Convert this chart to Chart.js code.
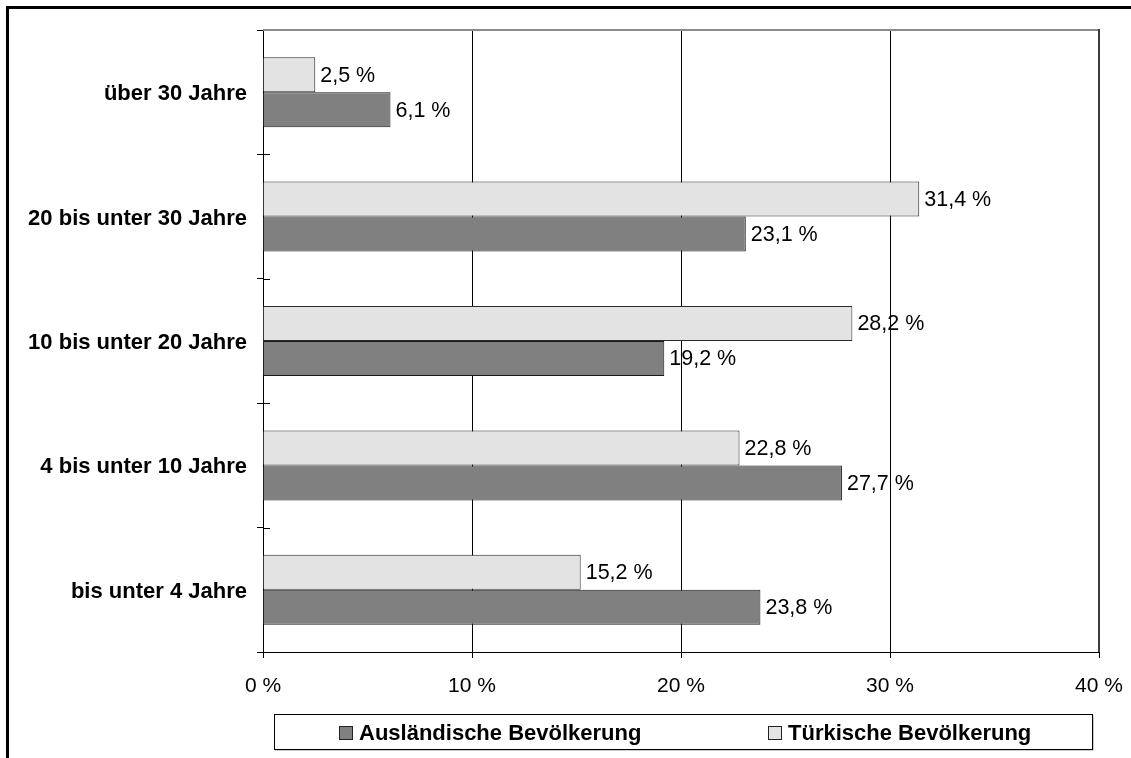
<!DOCTYPE html>
<html lang="de">
<head>
<meta charset="utf-8">
<title>Aufenthaltsdauer</title>
<script src="https://cdn.jsdelivr.net/npm/chart.js@4/dist/chart.umd.min.js"></script>
<style>
  html, body { margin: 0; padding: 0; background: #fff; }
  #wrap { width: 1131px; height: 758px; }
</style>
</head>
<body>
<div id="wrap"><canvas id="c" width="1131" height="758"></canvas></div>
<script>
// Aufenthaltsdauer (top to bottom)
const categories = ['über 30 Jahre', '20 bis unter 30 Jahre', '10 bis unter 20 Jahre', '4 bis unter 10 Jahre', 'bis unter 4 Jahre'];
const tuerkisch = [2.5, 31.4, 28.2, 22.8, 15.2];
const auslaendisch = [6.1, 23.1, 19.2, 27.7, 23.8];
const seriesNames = ['Türkische Bevölkerung', 'Ausländische Bevölkerung'];
const xTicks = [0, 10, 20, 30, 40];

const FONT = '"Liberation Sans", Arial, Helvetica, sans-serif';
const LIGHT = '#e3e3e3';
const DARK = '#808080';

const fmt = v => v.toFixed(1).replace('.', ',') + ' %';

// value labels at the end of each bar
const valueLabels = {
  id: 'valueLabels',
  afterDatasetsDraw(chart) {
    const ctx = chart.ctx;
    ctx.save();
    ctx.font = '21.5px ' + FONT;
    ctx.fillStyle = '#000';
    ctx.textAlign = 'left';
    ctx.textBaseline = 'middle';
    chart.data.datasets.forEach((ds, di) => {
      chart.getDatasetMeta(di).data.forEach((bar, i) => {
        ctx.fillText(fmt(ds.data[i]), bar.x + 5, bar.y + 1);
      });
    });
    ctx.restore();
  }
};

// outer frame, plot border, inner tick stubs and the boxed legend
const decorations = {
  id: 'decorations',
  beforeDraw(chart) {
    const ctx = chart.ctx;
    ctx.save();
    ctx.fillStyle = '#fff';
    ctx.fillRect(0, 0, chart.width, chart.height);
    ctx.restore();
  },
  afterDraw(chart) {
    const ctx = chart.ctx;
    const ca = chart.chartArea;
    const y = chart.scales.y;
    ctx.save();

    // outer frame (top and left edges)
    ctx.fillStyle = '#000';
    ctx.fillRect(6, 6, chart.width - 6, 3);
    ctx.fillRect(6, 6, 3, chart.height - 6);

    // plot area top and right border
    ctx.fillStyle = '#8a8a8a';
    ctx.fillRect(ca.left, ca.top - 1, ca.right - ca.left + 1, 2);
    ctx.fillStyle = '#3c3c3c';
    ctx.fillRect(ca.right - 1, ca.top - 1, 2, ca.bottom - ca.top + 1);

    // inner parts of the category tick marks
    const n = categories.length;
    const step = (y.bottom - y.top) / n;
    ctx.strokeStyle = '#000';
    ctx.lineWidth = 1;
    ctx.beginPath();
    for (let i = 1; i < n; i++) {
      const yy = Math.round(y.top + i * step) + 0.5;
      ctx.moveTo(ca.left, yy);
      ctx.lineTo(ca.left + 7, yy);
    }
    ctx.stroke();

    // legend box
    const bx = ca.left + 11, by = ca.bottom + 62;
    const bw = ca.right - ca.left - 18, bh = 35;
    ctx.fillStyle = '#9a9a9a';
    ctx.fillRect(bx + 1, by + bh, bw, 1.5);
    ctx.fillRect(bx + bw, by + 1, 1.5, bh);
    ctx.fillStyle = '#fff';
    ctx.fillRect(bx, by, bw, bh);
    ctx.strokeStyle = '#000';
    ctx.strokeRect(bx + 0.5, by + 0.5, bw, bh);

    const order = [1, 0];
    const offsets = [65, 494];
    ctx.font = 'bold 22px ' + FONT;
    ctx.textAlign = 'left';
    ctx.textBaseline = 'middle';
    order.forEach((di, k) => {
      const ds = chart.data.datasets[di];
      const sx = bx + offsets[k], sy = by + 12;
      ctx.fillStyle = ds.backgroundColor;
      ctx.fillRect(sx, sy, 14, 14);
      ctx.strokeStyle = '#222';
      ctx.strokeRect(sx + 0.5, sy + 0.5, 13, 13);
      ctx.fillStyle = '#000';
      ctx.fillText(ds.label, sx + 20, sy + 8);
    });

    ctx.restore();
  }
};

new Chart(document.getElementById('c'), {
  type: 'bar',
  data: {
    labels: categories,
    datasets: [
      {
        label: seriesNames[0],
        data: tuerkisch,
        backgroundColor: LIGHT,
        borderColor: '#2a2a2a',
        borderWidth: 1,
        borderSkipped: 'start'
      },
      {
        label: seriesNames[1],
        data: auslaendisch,
        backgroundColor: DARK,
        borderColor: '#1a1a1a',
        borderWidth: 1,
        borderSkipped: 'start'
      }
    ]
  },
  options: {
    indexAxis: 'y',
    responsive: false,
    animation: false,
    devicePixelRatio: 1,
    categoryPercentage: 0.563,
    barPercentage: 1,
    layout: { padding: { left: 0, top: 30, right: 32, bottom: 56 } },
    plugins: {
      legend: { display: false },
      tooltip: { enabled: false },
      title: { display: false }
    },
    scales: {
      x: {
        type: 'linear',
        min: xTicks[0],
        max: xTicks[xTicks.length - 1],
        afterBuildTicks(scale) { scale.ticks = xTicks.map(v => ({ value: v })); },
        afterFit(scale) {
          scale.height = 50;
          scale.paddingLeft = 0;
          scale.paddingRight = 0;
        },
        ticks: {
          callback: v => v + ' %',
          color: '#000',
          font: { family: FONT, size: 21 },
          padding: 16,
          maxRotation: 0
        },
        grid: {
          color: ctx => (ctx.tick && (ctx.tick.value === 0 || ctx.tick.value === 40)) ? 'rgba(0,0,0,0)' : '#000',
          tickColor: '#000',
          tickLength: 6,
          lineWidth: 1
        },
        border: { color: '#000', width: 1 }
      },
      y: {
        type: 'category',
        afterFit(scale) { scale.width = 263; },
        ticks: {
          color: '#000',
          font: { family: FONT, size: 22, weight: 'bold' },
          padding: 10,
          labelOffset: 2
        },
        grid: {
          offset: true,
          drawOnChartArea: false,
          tickColor: '#000',
          tickLength: 6
        },
        border: { color: '#000', width: 1 }
      }
    }
  },
  plugins: [decorations, valueLabels]
});
</script>
</body>
</html>
